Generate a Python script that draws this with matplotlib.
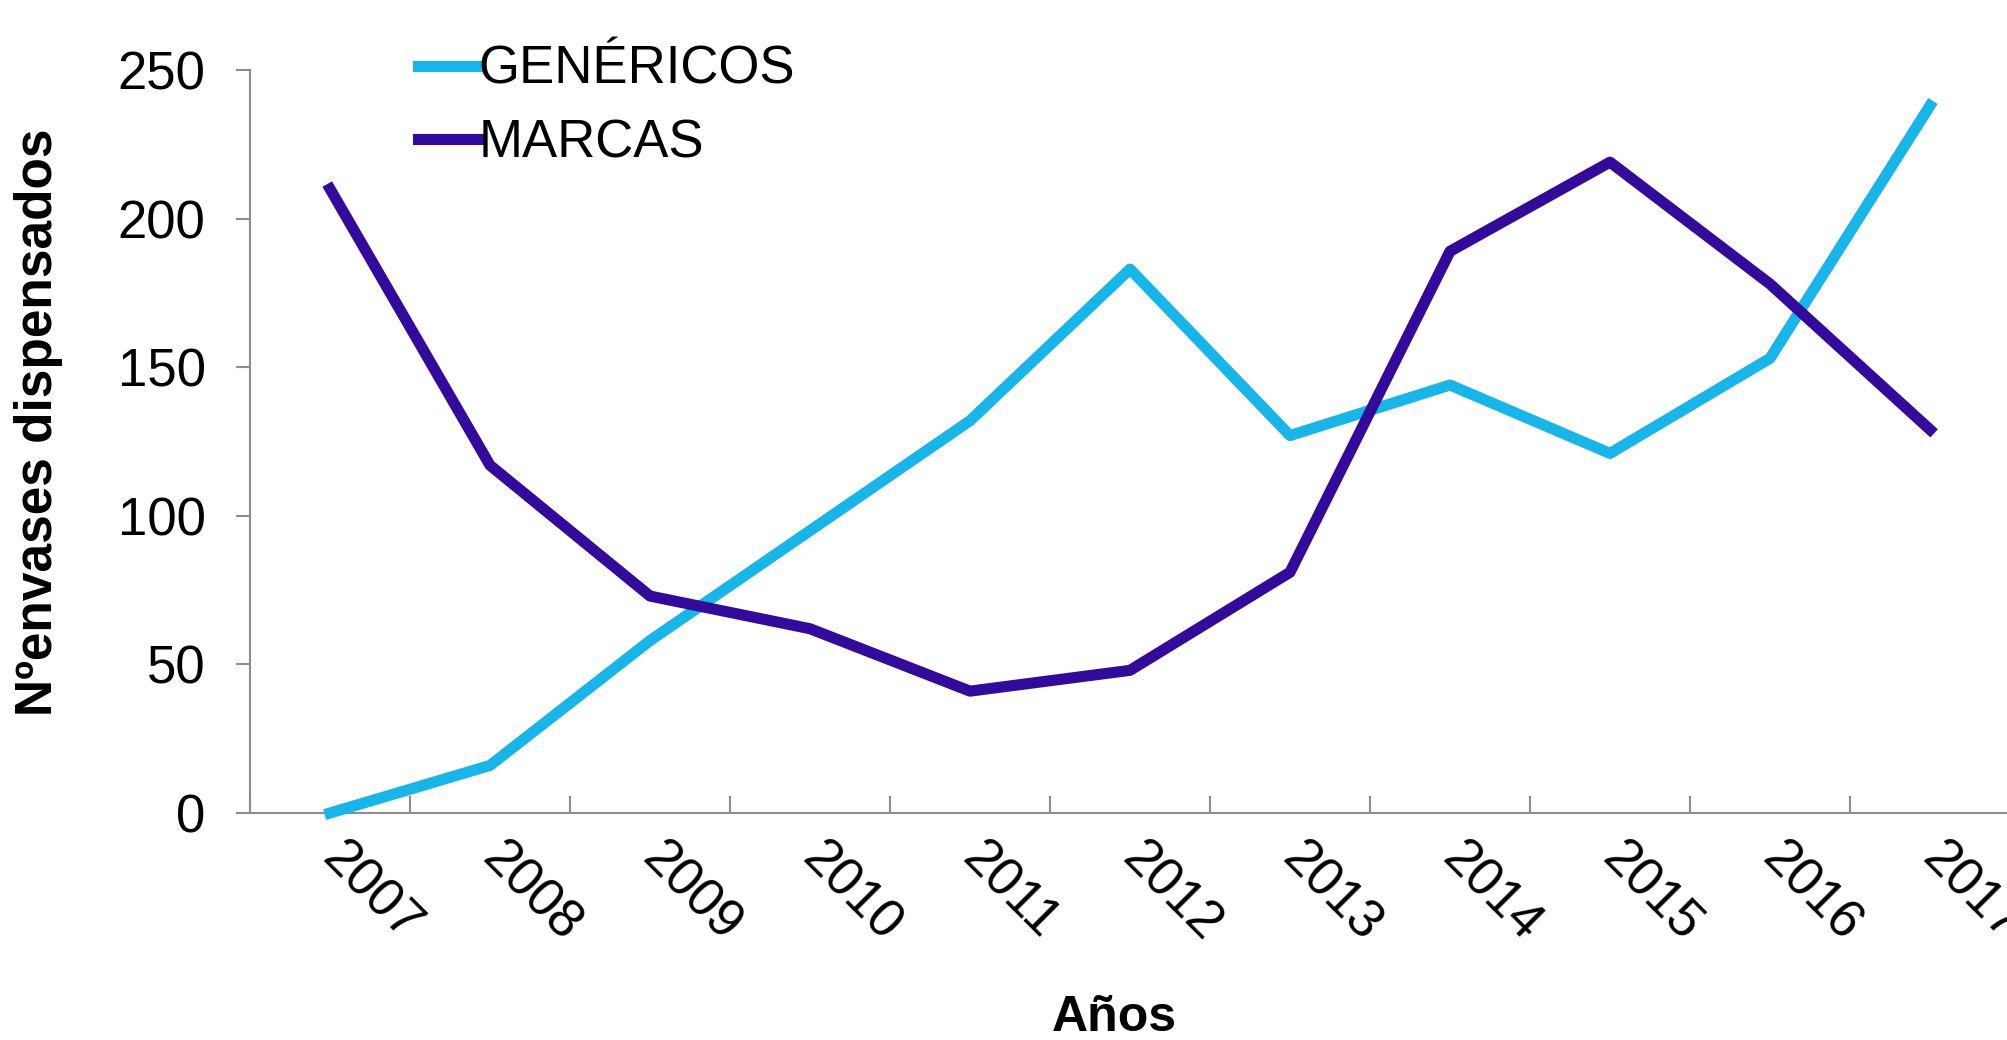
import matplotlib
matplotlib.use("Agg")
import matplotlib.pyplot as plt
from matplotlib.ticker import FixedLocator

years = ["2007", "2008", "2009", "2010", "2011", "2012", "2013", "2014", "2015", "2016", "2017"]
genericos = [0, 16, 58, 95, 132, 183, 127, 144, 121, 153, 238]
marcas = [210, 117, 73, 62, 41, 48, 81, 189, 219, 178, 129]
yticks = [0, 50, 100, 150, 200, 250]

plt.rcParams['font.family'] = ['Liberation Sans', 'DejaVu Sans']

W, H = 2008, 1040
fig = plt.figure(figsize=(W / 100, H / 100), dpi=100)
left, right, bottom, top = 250, 2010, 813, 70
ax = fig.add_axes([left / W, 1 - bottom / H, (right - left) / W, (bottom - top) / H])

x = list(range(len(years)))
ax.plot(x, genericos, color='#19B4E8', lw=8, label='GENÉRICOS', clip_on=False, zorder=3)
ax.plot(x, marcas, color='#330B9B', lw=8, label='MARCAS', clip_on=False, zorder=3)

ax.set_xlim(-0.5, len(years) - 0.5)
ax.set_ylim(0, 250)

for s in ['top', 'right']:
    ax.spines[s].set_visible(False)
for s in ['left', 'bottom']:
    ax.spines[s].set_color('#8c8c8c')
    ax.spines[s].set_linewidth(1.5)

ax.set_yticks(yticks)
ax.set_yticklabels([str(v) for v in yticks])
ax.tick_params(axis='y', direction='out', length=10, width=1.5, color='#8c8c8c',
               labelsize=38, pad=22)

ax.set_xticks(x)
ax.set_xticklabels(years, rotation=-45, ha='left', va='center', rotation_mode='anchor')
ax.tick_params(axis='x', which='major', length=0, labelsize=38, pad=27)
ax.xaxis.set_minor_locator(FixedLocator([i - 0.5 for i in range(len(years) + 1)]))
ax.tick_params(axis='x', which='minor', direction='in', length=12, width=1.5, color='#8c8c8c')

ax.set_xlabel('Años', fontsize=36, fontweight='bold')
ax.xaxis.set_label_coords(0.491, -0.245)
ax.set_ylabel('Nºenvases dispensados', fontsize=37, fontweight='bold')
ax.yaxis.set_label_coords(-0.106, 0.526)

leg = ax.legend(loc='upper left', bbox_to_anchor=(418 / W, 1 - 45 / H), bbox_transform=fig.transFigure,
                frameon=False, fontsize=38, handlelength=1.15, handletextpad=0.0,
                borderpad=0, borderaxespad=0, labelspacing=0.45)

fig.savefig('out.png', dpi=100, facecolor='white')
